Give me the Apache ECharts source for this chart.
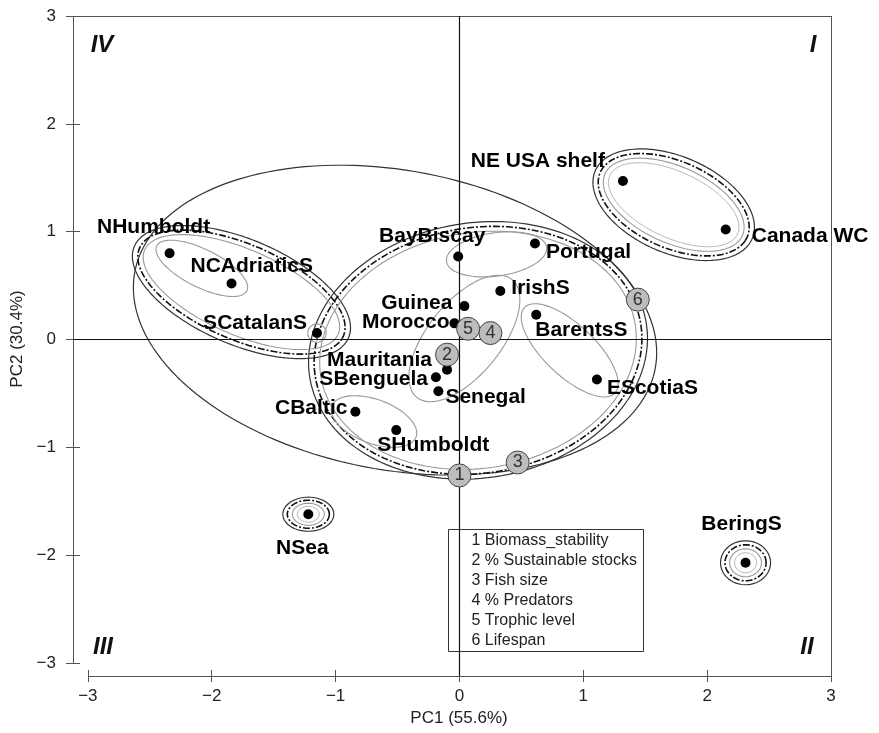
<!DOCTYPE html>
<html>
<head>
<meta charset="utf-8">
<script src="https://cdn.jsdelivr.net/npm/echarts@6/dist/echarts.min.js"></script>
<style>
  html, body { margin: 0; padding: 0; background: #fff; }
  #chart { width: 879px; height: 733px; }
</style>
</head>
<body>
<div id="chart"></div>
<script>
const FONT = '"Liberation Sans", Arial, Helvetica, sans-serif'

// ecosystems, PC scores
const names = ['NHumboldt', 'NCAdriaticS', 'SCatalanS', 'BayBiscay', 'Portugal', 'NE USA shelf',
  'Canada WC', 'IrishS', 'Guinea', 'Morocco', 'BarentsS', 'EScotiaS', 'Mauritania',
  'SBenguela', 'Senegal', 'CBaltic', 'SHumboldt', 'NSea', 'BeringS']
const pc1 = [-2.34, -1.84, -1.15, -0.01, 0.61, 1.32, 2.15, 0.33, 0.04, -0.04, 0.62, 1.11,
  -0.10, -0.19, -0.17, -0.84, -0.51, -1.22, 2.31]
const pc2 = [0.80, 0.52, 0.06, 0.77, 0.89, 1.47, 1.02, 0.45, 0.31, 0.15, 0.23, -0.37,
  -0.28, -0.35, -0.48, -0.67, -0.84, -1.62, -2.07]

// indicator loadings (numbered circles)
const indicators = ['Biomass_stability', '% Sustainable stocks', 'Fish size', '% Predators',
  'Trophic level', 'Lifespan']
const loadX = [0.00, -0.10, 0.47, 0.25, 0.07, 1.44]
const loadY = [-1.26, -0.14, -1.14, 0.06, 0.10, 0.37]

// cluster ellipses: [cx, cy, rx, ry, rotation deg] in PC units
const solidRings = [
  [-0.52, 0.18, 2.15, 1.38, -14],
  [-1.76, 0.44, 0.965, 0.475, -28],
  [0.15, -0.10, 1.385, 1.175, 17],
  [1.73, 1.25, 0.71, 0.435, -30],
  [-1.22, -1.62, 0.206, 0.158, 0],
  [2.31, -2.07, 0.202, 0.204, 0],
]
const dashedRings = [
  [-1.76, 0.44, 0.92, 0.43, -28],
  [0.15, -0.10, 1.34, 1.13, 17],
  [1.73, 1.25, 0.667, 0.39, -30],
  [-1.22, -1.62, 0.17, 0.13, 0],
  [2.31, -2.07, 0.166, 0.167, 0],
]
const grayRings = [
  [-1.76, 0.44, 0.875, 0.385, -28],
  [0.15, -0.10, 1.295, 1.085, 17],
  [1.73, 1.25, 0.626, 0.344, -30],
  [-1.22, -1.62, 0.129, 0.102, 0],
  [2.31, -2.07, 0.129, 0.13, 0],
  [-2.08, 0.66, 0.42, 0.17, -31],
  [-1.15, 0.06, 0.075, 0.085, 0],
  [0.30, 0.79, 0.41, 0.2, 10],
  [0.04, 0.01, 0.67, 0.31, 57],
  [0.89, -0.10, 0.54, 0.22, -49],
  [-0.69, -0.76, 0.37, 0.2, -25],
]
const lightRings = [
  [1.73, 1.25, 0.584, 0.298, -30],
  [-1.22, -1.62, 0.089, 0.074, 0],
  [2.31, -2.07, 0.089, 0.093, 0],
]

const ticks = [-3, -2, -1, 0, 1, 2, 3]
const quadrants = ['IV', 'I', 'III', 'II']

const lo = -3.12
const hi = 3

// label anchor for each site: [align, dx, dy]
const labelPlacement = {
  'NHumboldt': ['center', -16, -26],
  'NCAdriaticS': ['left', -41, -17],
  'SCatalanS': ['right', -10, -10],
  'BayBiscay': ['center', -26, -20],
  'Portugal': ['left', 11, 9],
  'NE USA shelf': ['right', -18, -20],
  'Canada WC': ['left', 26, 7],
  'IrishS': ['left', 11, -3],
  'Guinea': ['right', -12, -3],
  'Morocco': ['right', -5, -1],
  'BarentsS': ['left', -1, 15],
  'EScotiaS': ['left', 10, 9],
  'Mauritania': ['right', -15, -10],
  'SBenguela': ['right', -8, 2],
  'Senegal': ['left', 7, 6],
  'CBaltic': ['right', -8, -4],
  'SHumboldt': ['left', -19, 15],
  'NSea': ['center', -6, 34],
  'BeringS': ['center', -4, -39],
}

const fmtTick = (v) => (v < 0 ? '\u2212' + Math.abs(v) : String(v))

const ellipsePoints = ([cx, cy, rx, ry, rot]) => {
  const r = rot * Math.PI / 180
  const pts = []
  for (let i = 0; i <= 160; i++) {
    const t = i / 160 * Math.PI * 2
    const ex = rx * Math.cos(t)
    const ey = ry * Math.sin(t)
    pts.push([cx + ex * Math.cos(r) - ey * Math.sin(r), cy + ex * Math.sin(r) + ey * Math.cos(r)])
  }
  return pts
}

const series = []

const ringGroups = [
  [solidRings, { color: '#333', width: 1.2, type: 'solid' }],
  [dashedRings, { color: '#111', width: 1.6, type: [7, 2, 2, 2] }],
  [grayRings, { color: '#999', width: 1.1, type: 'solid' }],
  [lightRings, { color: '#b8b8b8', width: 1, type: 'solid' }],
]
ringGroups.forEach(([list, style]) => {
  list.forEach((e) => {
    series.push({
      type: 'line',
      data: ellipsePoints(e),
      symbol: 'none',
      showSymbol: false,
      silent: true,
      lineStyle: style,
      z: 2,
    })
  })
})

// frame, axis lines and zero lines
const seg = (a, b, style) => [{ coord: a, lineStyle: style }, { coord: b }]
const axisStyle = { color: '#555', width: 1, type: 'solid' }
const zeroStyle = { color: '#111', width: 1.2, type: 'solid' }
series.push({
  type: 'line',
  data: [],
  markLine: {
    silent: true,
    symbol: 'none',
    label: { show: false },
    animation: false,
    data: [
      seg([-3, lo], [3, lo], axisStyle),
      seg([lo, -3], [lo, 3], axisStyle),
      seg([lo, hi], [hi, hi], axisStyle),
      seg([hi, lo], [hi, hi], axisStyle),
      seg([lo, 0], [hi, 0], zeroStyle),
      seg([0, lo], [0, hi], zeroStyle),
    ],
  },
  z: 1,
})

series.push({
  type: 'scatter',
  symbolSize: 10,
  itemStyle: { color: '#000', opacity: 1 },
  label: {
    show: true,
    position: 'inside',
    formatter: '{b}',
    fontFamily: FONT,
    fontSize: 21,
    fontWeight: 'bold',
    color: '#000',
    opacity: 1,
    verticalAlign: 'middle',
  },
  data: names.map((n, i) => {
    const [align, dx, dy] = labelPlacement[n]
    return { name: n, value: [pc1[i], pc2[i]], label: { align, offset: [dx, dy] } }
  }),
  z: 4,
})

series.push({
  type: 'scatter',
  symbolSize: 23,
  itemStyle: { color: '#bdbdbd', borderColor: '#444', borderWidth: 1, opacity: 1 },
  label: {
    show: true,
    position: 'inside',
    formatter: (p) => String(p.dataIndex + 1),
    fontFamily: FONT,
    fontSize: 18,
    color: '#333',
    opacity: 1,
  },
  data: loadX.map((x, i) => [x, loadY[i]]),
  z: 5,
})

const makeX = (inside) => ({
  type: 'value',
  min: lo,
  max: hi,
  position: 'bottom',
  axisLine: { show: false, onZero: false },
  splitLine: { show: false },
  axisTick: { show: true, inside, length: 6, customValues: ticks, lineStyle: { color: '#555' } },
  axisLabel: {
    show: !inside,
    customValues: ticks,
    formatter: fmtTick,
    fontFamily: FONT,
    fontSize: 17,
    color: '#222',
    margin: 12,
  },
})
const makeY = (inside) => ({
  type: 'value',
  min: lo,
  max: hi,
  position: 'left',
  axisLine: { show: false, onZero: false },
  splitLine: { show: false },
  axisTick: { show: true, inside, length: 7, customValues: ticks, lineStyle: { color: '#555' } },
  axisLabel: {
    show: !inside,
    customValues: ticks,
    formatter: fmtTick,
    fontFamily: FONT,
    fontSize: 17,
    color: '#222',
    margin: 17,
  },
})

const xMain = makeX(false)
xMain.name = 'PC1 (55.6%)'
xMain.nameLocation = 'middle'
xMain.nameGap = 33
xMain.nameTextStyle = { fontFamily: FONT, fontSize: 17, color: '#222', padding: [0, 0, 0, 14] }
const yMain = makeY(false)
yMain.name = 'PC2 (30.4%)'
yMain.nameLocation = 'middle'
yMain.nameGap = 45
yMain.nameTextStyle = { fontFamily: FONT, fontSize: 17, color: '#222', padding: [0, 0, 0, 14] }

const quadText = (text, x, y) => ({
  type: 'text',
  x,
  y,
  silent: true,
  style: {
    text,
    fontFamily: FONT,
    fontSize: 24,
    fontWeight: 'bold',
    fontStyle: 'italic',
    fill: '#111',
    align: 'center',
    verticalAlign: 'middle',
  },
})

const legendBox = {
  type: 'group',
  left: 446,
  top: 527,
  silent: true,
  children: [
    { type: 'rect', shape: { x: 0, y: 0, width: 195, height: 122 }, style: { fill: 'none', stroke: '#333', lineWidth: 1 } },
    ...indicators.map((t, i) => ({
      type: 'text',
      x: 23,
      y: 11 + i * 20,
      style: {
        text: (i + 1) + ' ' + t,
        fontFamily: FONT,
        fontSize: 16,
        fill: '#222',
        verticalAlign: 'middle',
      },
    })),
  ],
}

const chart = echarts.init(document.getElementById('chart'))
chart.setOption({
  animation: false,
  backgroundColor: '#fff',
  grid: { left: 73, right: 48, top: 16, bottom: 57, containLabel: false },
  xAxis: [xMain, makeX(true)],
  yAxis: [yMain, makeY(true)],
  series,
  graphic: [
    quadText(quadrants[0], 102, 45),
    quadText(quadrants[1], 813, 45),
    quadText(quadrants[2], 103, 647),
    quadText(quadrants[3], 807, 647),
    legendBox,
  ],
})
</script>
</body>
</html>
